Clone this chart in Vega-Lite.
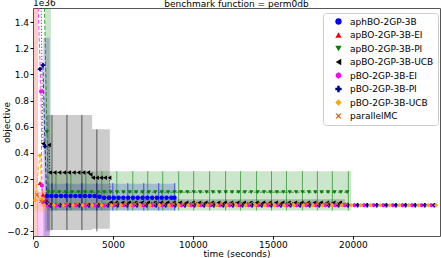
{
"$schema": "https://vega.github.io/schema/vega-lite/v6.json",
"width": 407, "height": 228,
"autosize": {"type": "none"},
"padding": {"left": 33, "top": 8, "right": 1, "bottom": 22},
"title": {"text": "benchmark function = perm0db", "anchor": "middle", "frame": "group", "baseline": "bottom", "offset": -19},
"datasets": {
"pts": [
{"s":"aphBO-2GP-3B","x":874,"y":0.07},{"s":"aphBO-2GP-3B","x":1150,"y":0.07},{"s":"aphBO-2GP-3B","x":1450,"y":0.07},{"s":"aphBO-2GP-3B","x":1750,"y":0.07},{"s":"aphBO-2GP-3B","x":2050,"y":0.07},{"s":"aphBO-2GP-3B","x":2350,"y":0.07},{"s":"aphBO-2GP-3B","x":2650,"y":0.07},{"s":"aphBO-2GP-3B","x":2950,"y":0.07},{"s":"aphBO-2GP-3B","x":3250,"y":0.07},{"s":"aphBO-2GP-3B","x":3550,"y":0.07},{"s":"aphBO-2GP-3B","x":3850,"y":0.07},{"s":"aphBO-2GP-3B","x":4150,"y":0.065},{"s":"aphBO-2GP-3B","x":4450,"y":0.058},{"s":"aphBO-2GP-3B","x":4750,"y":0.058},{"s":"aphBO-2GP-3B","x":5050,"y":0.058},{"s":"aphBO-2GP-3B","x":5350,"y":0.058},{"s":"aphBO-2GP-3B","x":5650,"y":0.058},{"s":"aphBO-2GP-3B","x":5950,"y":0.058},{"s":"aphBO-2GP-3B","x":6250,"y":0.058},{"s":"aphBO-2GP-3B","x":6550,"y":0.058},{"s":"aphBO-2GP-3B","x":6850,"y":0.058},{"s":"aphBO-2GP-3B","x":7150,"y":0.058},{"s":"aphBO-2GP-3B","x":7450,"y":0.058},{"s":"aphBO-2GP-3B","x":7750,"y":0.058},{"s":"aphBO-2GP-3B","x":8050,"y":0.058},{"s":"aphBO-2GP-3B","x":8350,"y":0.058},{"s":"aphBO-2GP-3B","x":8650,"y":0.058},{"s":"aphBO-2GP-3B","x":8850,"y":0.058},
{"s":"apBO-2GP-3B-EI","x":437,"y":0.17},{"s":"apBO-2GP-3B-EI","x":624,"y":0.08},{"s":"apBO-2GP-3B-EI","x":800,"y":0.04},{"s":"apBO-2GP-3B-EI","x":950,"y":0.01},{"s":"apBO-2GP-3B-EI","x":1400,"y":0.005},{"s":"apBO-2GP-3B-EI","x":2000,"y":0.005},{"s":"apBO-2GP-3B-EI","x":2600,"y":0.005},{"s":"apBO-2GP-3B-EI","x":3200,"y":0.005},{"s":"apBO-2GP-3B-EI","x":3800,"y":0.005},{"s":"apBO-2GP-3B-EI","x":4400,"y":0.005},{"s":"apBO-2GP-3B-EI","x":5000,"y":0.005},{"s":"apBO-2GP-3B-EI","x":5600,"y":0.005},{"s":"apBO-2GP-3B-EI","x":6200,"y":0.005},{"s":"apBO-2GP-3B-EI","x":6800,"y":0.005},{"s":"apBO-2GP-3B-EI","x":7400,"y":0.005},{"s":"apBO-2GP-3B-EI","x":8000,"y":0.005},{"s":"apBO-2GP-3B-EI","x":8600,"y":0.005},{"s":"apBO-2GP-3B-EI","x":9200,"y":0.005},{"s":"apBO-2GP-3B-EI","x":9800,"y":0.005},{"s":"apBO-2GP-3B-EI","x":10400,"y":0.005},{"s":"apBO-2GP-3B-EI","x":11000,"y":0.005},{"s":"apBO-2GP-3B-EI","x":11600,"y":0.005},{"s":"apBO-2GP-3B-EI","x":12200,"y":0.005},{"s":"apBO-2GP-3B-EI","x":12800,"y":0.005},{"s":"apBO-2GP-3B-EI","x":13400,"y":0.005},{"s":"apBO-2GP-3B-EI","x":14000,"y":0.005},{"s":"apBO-2GP-3B-EI","x":14600,"y":0.005},{"s":"apBO-2GP-3B-EI","x":15200,"y":0.005},{"s":"apBO-2GP-3B-EI","x":15800,"y":0.005},{"s":"apBO-2GP-3B-EI","x":16400,"y":0.005},{"s":"apBO-2GP-3B-EI","x":17000,"y":0.005},{"s":"apBO-2GP-3B-EI","x":17600,"y":0.005},{"s":"apBO-2GP-3B-EI","x":18200,"y":0.005},{"s":"apBO-2GP-3B-EI","x":18800,"y":0.005},{"s":"apBO-2GP-3B-EI","x":19400,"y":0.005},
{"s":"apBO-2GP-3B-PI","x":700,"y":1.6},{"s":"apBO-2GP-3B-PI","x":874,"y":0.56},{"s":"apBO-2GP-3B-PI","x":950,"y":0.1},{"s":"apBO-2GP-3B-PI","x":1250,"y":0.1},{"s":"apBO-2GP-3B-PI","x":1650,"y":0.1},{"s":"apBO-2GP-3B-PI","x":2050,"y":0.1},{"s":"apBO-2GP-3B-PI","x":2450,"y":0.1},{"s":"apBO-2GP-3B-PI","x":2850,"y":0.1},{"s":"apBO-2GP-3B-PI","x":3250,"y":0.1},{"s":"apBO-2GP-3B-PI","x":3650,"y":0.1},{"s":"apBO-2GP-3B-PI","x":4050,"y":0.1},{"s":"apBO-2GP-3B-PI","x":4450,"y":0.1},{"s":"apBO-2GP-3B-PI","x":4850,"y":0.1},{"s":"apBO-2GP-3B-PI","x":5250,"y":0.1},{"s":"apBO-2GP-3B-PI","x":5650,"y":0.1},{"s":"apBO-2GP-3B-PI","x":6050,"y":0.1},{"s":"apBO-2GP-3B-PI","x":6450,"y":0.1},{"s":"apBO-2GP-3B-PI","x":6850,"y":0.1},{"s":"apBO-2GP-3B-PI","x":7250,"y":0.1},{"s":"apBO-2GP-3B-PI","x":7650,"y":0.1},{"s":"apBO-2GP-3B-PI","x":8050,"y":0.1},{"s":"apBO-2GP-3B-PI","x":8450,"y":0.1},{"s":"apBO-2GP-3B-PI","x":8850,"y":0.1},{"s":"apBO-2GP-3B-PI","x":9250,"y":0.1},{"s":"apBO-2GP-3B-PI","x":9650,"y":0.1},{"s":"apBO-2GP-3B-PI","x":10050,"y":0.1},{"s":"apBO-2GP-3B-PI","x":10450,"y":0.1},{"s":"apBO-2GP-3B-PI","x":10850,"y":0.1},{"s":"apBO-2GP-3B-PI","x":11250,"y":0.1},{"s":"apBO-2GP-3B-PI","x":11650,"y":0.1},{"s":"apBO-2GP-3B-PI","x":12050,"y":0.1},{"s":"apBO-2GP-3B-PI","x":12450,"y":0.1},{"s":"apBO-2GP-3B-PI","x":12850,"y":0.1},{"s":"apBO-2GP-3B-PI","x":13250,"y":0.1},{"s":"apBO-2GP-3B-PI","x":13650,"y":0.1},{"s":"apBO-2GP-3B-PI","x":14050,"y":0.1},{"s":"apBO-2GP-3B-PI","x":14450,"y":0.1},{"s":"apBO-2GP-3B-PI","x":14850,"y":0.1},{"s":"apBO-2GP-3B-PI","x":15250,"y":0.1},{"s":"apBO-2GP-3B-PI","x":15650,"y":0.1},{"s":"apBO-2GP-3B-PI","x":16050,"y":0.1},{"s":"apBO-2GP-3B-PI","x":16450,"y":0.1},{"s":"apBO-2GP-3B-PI","x":16850,"y":0.1},{"s":"apBO-2GP-3B-PI","x":17250,"y":0.1},{"s":"apBO-2GP-3B-PI","x":17650,"y":0.1},{"s":"apBO-2GP-3B-PI","x":18050,"y":0.1},{"s":"apBO-2GP-3B-PI","x":18450,"y":0.1},{"s":"apBO-2GP-3B-PI","x":18850,"y":0.1},{"s":"apBO-2GP-3B-PI","x":19250,"y":0.1},{"s":"apBO-2GP-3B-PI","x":19650,"y":0.1},
{"s":"apBO-2GP-3B-UCB","x":500,"y":1.6},{"s":"apBO-2GP-3B-UCB","x":624,"y":0.47},{"s":"apBO-2GP-3B-UCB","x":1000,"y":0.46},{"s":"apBO-2GP-3B-UCB","x":1060,"y":0.25},{"s":"apBO-2GP-3B-UCB","x":1350,"y":0.25},{"s":"apBO-2GP-3B-UCB","x":1650,"y":0.25},{"s":"apBO-2GP-3B-UCB","x":1950,"y":0.25},{"s":"apBO-2GP-3B-UCB","x":2250,"y":0.25},{"s":"apBO-2GP-3B-UCB","x":2550,"y":0.25},{"s":"apBO-2GP-3B-UCB","x":2850,"y":0.25},{"s":"apBO-2GP-3B-UCB","x":3150,"y":0.25},{"s":"apBO-2GP-3B-UCB","x":3450,"y":0.25},{"s":"apBO-2GP-3B-UCB","x":3600,"y":0.235},{"s":"apBO-2GP-3B-UCB","x":3750,"y":0.21},{"s":"apBO-2GP-3B-UCB","x":4000,"y":0.21},{"s":"apBO-2GP-3B-UCB","x":4250,"y":0.21},{"s":"apBO-2GP-3B-UCB","x":4500,"y":0.21},{"s":"apBO-2GP-3B-UCB","x":4780,"y":0.21},{"s":"apBO-2GP-3B-UCB","x":4850,"y":0.02},{"s":"apBO-2GP-3B-UCB","x":5200,"y":0.02},{"s":"apBO-2GP-3B-UCB","x":5600,"y":0.02},{"s":"apBO-2GP-3B-UCB","x":6000,"y":0.02},{"s":"apBO-2GP-3B-UCB","x":6400,"y":0.02},{"s":"apBO-2GP-3B-UCB","x":6800,"y":0.02},{"s":"apBO-2GP-3B-UCB","x":7200,"y":0.02},{"s":"apBO-2GP-3B-UCB","x":7600,"y":0.02},{"s":"apBO-2GP-3B-UCB","x":8000,"y":0.02},{"s":"apBO-2GP-3B-UCB","x":8400,"y":0.02},{"s":"apBO-2GP-3B-UCB","x":8800,"y":0.02},{"s":"apBO-2GP-3B-UCB","x":9200,"y":0.02},{"s":"apBO-2GP-3B-UCB","x":9600,"y":0.02},{"s":"apBO-2GP-3B-UCB","x":10000,"y":0.02},{"s":"apBO-2GP-3B-UCB","x":10400,"y":0.02},{"s":"apBO-2GP-3B-UCB","x":10800,"y":0.02},{"s":"apBO-2GP-3B-UCB","x":11200,"y":0.02},{"s":"apBO-2GP-3B-UCB","x":11600,"y":0.02},{"s":"apBO-2GP-3B-UCB","x":12000,"y":0.02},{"s":"apBO-2GP-3B-UCB","x":12400,"y":0.02},{"s":"apBO-2GP-3B-UCB","x":12800,"y":0.02},{"s":"apBO-2GP-3B-UCB","x":13200,"y":0.02},{"s":"apBO-2GP-3B-UCB","x":13600,"y":0.02},{"s":"apBO-2GP-3B-UCB","x":14000,"y":0.02},{"s":"apBO-2GP-3B-UCB","x":14400,"y":0.02},{"s":"apBO-2GP-3B-UCB","x":14800,"y":0.02},{"s":"apBO-2GP-3B-UCB","x":15200,"y":0.02},{"s":"apBO-2GP-3B-UCB","x":15600,"y":0.02},{"s":"apBO-2GP-3B-UCB","x":16000,"y":0.02},{"s":"apBO-2GP-3B-UCB","x":16400,"y":0.02},{"s":"apBO-2GP-3B-UCB","x":16800,"y":0.02},{"s":"apBO-2GP-3B-UCB","x":17200,"y":0.02},{"s":"apBO-2GP-3B-UCB","x":17600,"y":0.02},{"s":"apBO-2GP-3B-UCB","x":18000,"y":0.02},{"s":"apBO-2GP-3B-UCB","x":18400,"y":0.02},{"s":"apBO-2GP-3B-UCB","x":18800,"y":0.02},{"s":"apBO-2GP-3B-UCB","x":19200,"y":0.02},
{"s":"pBO-2GP-3B-EI","x":300,"y":1.6},{"s":"pBO-2GP-3B-EI","x":500,"y":0.87},{"s":"pBO-2GP-3B-EI","x":560,"y":0.15},{"s":"pBO-2GP-3B-EI","x":650,"y":0.02},{"s":"pBO-2GP-3B-EI","x":900,"y":0},{"s":"pBO-2GP-3B-EI","x":1500,"y":0},{"s":"pBO-2GP-3B-EI","x":2100,"y":0},{"s":"pBO-2GP-3B-EI","x":2700,"y":0},{"s":"pBO-2GP-3B-EI","x":3300,"y":0},{"s":"pBO-2GP-3B-EI","x":3900,"y":0},{"s":"pBO-2GP-3B-EI","x":4500,"y":0},{"s":"pBO-2GP-3B-EI","x":5100,"y":0},{"s":"pBO-2GP-3B-EI","x":5700,"y":0},{"s":"pBO-2GP-3B-EI","x":6300,"y":0},{"s":"pBO-2GP-3B-EI","x":6900,"y":0},{"s":"pBO-2GP-3B-EI","x":7500,"y":0},{"s":"pBO-2GP-3B-EI","x":8100,"y":0},{"s":"pBO-2GP-3B-EI","x":8700,"y":0},{"s":"pBO-2GP-3B-EI","x":9300,"y":0},{"s":"pBO-2GP-3B-EI","x":9900,"y":0},{"s":"pBO-2GP-3B-EI","x":10500,"y":0},{"s":"pBO-2GP-3B-EI","x":11100,"y":0},{"s":"pBO-2GP-3B-EI","x":11700,"y":0},{"s":"pBO-2GP-3B-EI","x":12300,"y":0},{"s":"pBO-2GP-3B-EI","x":12900,"y":0},{"s":"pBO-2GP-3B-EI","x":13500,"y":0},{"s":"pBO-2GP-3B-EI","x":14100,"y":0},{"s":"pBO-2GP-3B-EI","x":14700,"y":0},{"s":"pBO-2GP-3B-EI","x":15300,"y":0},{"s":"pBO-2GP-3B-EI","x":15900,"y":0},{"s":"pBO-2GP-3B-EI","x":16500,"y":0},{"s":"pBO-2GP-3B-EI","x":17100,"y":0},{"s":"pBO-2GP-3B-EI","x":17700,"y":0},{"s":"pBO-2GP-3B-EI","x":18300,"y":0},{"s":"pBO-2GP-3B-EI","x":18900,"y":0},{"s":"pBO-2GP-3B-EI","x":19500,"y":0},{"s":"pBO-2GP-3B-EI","x":20100,"y":0},{"s":"pBO-2GP-3B-EI","x":20700,"y":0},{"s":"pBO-2GP-3B-EI","x":21300,"y":0},{"s":"pBO-2GP-3B-EI","x":21900,"y":0},{"s":"pBO-2GP-3B-EI","x":22500,"y":0},{"s":"pBO-2GP-3B-EI","x":23100,"y":0},{"s":"pBO-2GP-3B-EI","x":23700,"y":0},{"s":"pBO-2GP-3B-EI","x":24300,"y":0},{"s":"pBO-2GP-3B-EI","x":24900,"y":0},
{"s":"pBO-2GP-3B-PI","x":437,"y":1.04},{"s":"pBO-2GP-3B-PI","x":624,"y":1.07},{"s":"pBO-2GP-3B-PI","x":750,"y":0.45},{"s":"pBO-2GP-3B-PI","x":874,"y":0.02},{"s":"pBO-2GP-3B-PI","x":1100,"y":0},{"s":"pBO-2GP-3B-PI","x":1700,"y":0},{"s":"pBO-2GP-3B-PI","x":2300,"y":0},{"s":"pBO-2GP-3B-PI","x":2900,"y":0},{"s":"pBO-2GP-3B-PI","x":3500,"y":0},{"s":"pBO-2GP-3B-PI","x":4100,"y":0},{"s":"pBO-2GP-3B-PI","x":4700,"y":0},{"s":"pBO-2GP-3B-PI","x":5300,"y":0},{"s":"pBO-2GP-3B-PI","x":5900,"y":0},{"s":"pBO-2GP-3B-PI","x":6500,"y":0},{"s":"pBO-2GP-3B-PI","x":7100,"y":0},{"s":"pBO-2GP-3B-PI","x":7700,"y":0},{"s":"pBO-2GP-3B-PI","x":8300,"y":0},{"s":"pBO-2GP-3B-PI","x":8900,"y":0},{"s":"pBO-2GP-3B-PI","x":9500,"y":0},{"s":"pBO-2GP-3B-PI","x":10100,"y":0},{"s":"pBO-2GP-3B-PI","x":10700,"y":0},{"s":"pBO-2GP-3B-PI","x":11300,"y":0},{"s":"pBO-2GP-3B-PI","x":11900,"y":0},{"s":"pBO-2GP-3B-PI","x":12500,"y":0},{"s":"pBO-2GP-3B-PI","x":13100,"y":0},{"s":"pBO-2GP-3B-PI","x":13700,"y":0},{"s":"pBO-2GP-3B-PI","x":14300,"y":0},{"s":"pBO-2GP-3B-PI","x":14900,"y":0},{"s":"pBO-2GP-3B-PI","x":15500,"y":0},{"s":"pBO-2GP-3B-PI","x":16100,"y":0},{"s":"pBO-2GP-3B-PI","x":16700,"y":0},{"s":"pBO-2GP-3B-PI","x":17300,"y":0},{"s":"pBO-2GP-3B-PI","x":17900,"y":0},{"s":"pBO-2GP-3B-PI","x":18500,"y":0},{"s":"pBO-2GP-3B-PI","x":19100,"y":0},{"s":"pBO-2GP-3B-PI","x":19700,"y":0},{"s":"pBO-2GP-3B-PI","x":20300,"y":0},{"s":"pBO-2GP-3B-PI","x":20900,"y":0},{"s":"pBO-2GP-3B-PI","x":21500,"y":0},{"s":"pBO-2GP-3B-PI","x":22100,"y":0},{"s":"pBO-2GP-3B-PI","x":22700,"y":0},{"s":"pBO-2GP-3B-PI","x":23300,"y":0},{"s":"pBO-2GP-3B-PI","x":23900,"y":0},{"s":"pBO-2GP-3B-PI","x":24500,"y":0},{"s":"pBO-2GP-3B-PI","x":25100,"y":0},
{"s":"pBO-2GP-3B-UCB","x":125,"y":0.04},{"s":"pBO-2GP-3B-UCB","x":437,"y":0.38},{"s":"pBO-2GP-3B-UCB","x":560,"y":0.05},{"s":"pBO-2GP-3B-UCB","x":700,"y":0},{"s":"pBO-2GP-3B-UCB","x":1300,"y":0},{"s":"pBO-2GP-3B-UCB","x":1900,"y":0},{"s":"pBO-2GP-3B-UCB","x":2500,"y":0},{"s":"pBO-2GP-3B-UCB","x":3100,"y":0},{"s":"pBO-2GP-3B-UCB","x":3700,"y":0},{"s":"pBO-2GP-3B-UCB","x":4300,"y":0},{"s":"pBO-2GP-3B-UCB","x":4900,"y":0},{"s":"pBO-2GP-3B-UCB","x":5500,"y":0},{"s":"pBO-2GP-3B-UCB","x":6100,"y":0},{"s":"pBO-2GP-3B-UCB","x":6700,"y":0},{"s":"pBO-2GP-3B-UCB","x":7300,"y":0},{"s":"pBO-2GP-3B-UCB","x":7900,"y":0},{"s":"pBO-2GP-3B-UCB","x":8500,"y":0},{"s":"pBO-2GP-3B-UCB","x":9100,"y":0},{"s":"pBO-2GP-3B-UCB","x":9700,"y":0},{"s":"pBO-2GP-3B-UCB","x":10300,"y":0},{"s":"pBO-2GP-3B-UCB","x":10900,"y":0},{"s":"pBO-2GP-3B-UCB","x":11500,"y":0},{"s":"pBO-2GP-3B-UCB","x":12100,"y":0},{"s":"pBO-2GP-3B-UCB","x":12700,"y":0},{"s":"pBO-2GP-3B-UCB","x":13300,"y":0},{"s":"pBO-2GP-3B-UCB","x":13900,"y":0},{"s":"pBO-2GP-3B-UCB","x":14500,"y":0},{"s":"pBO-2GP-3B-UCB","x":15100,"y":0},{"s":"pBO-2GP-3B-UCB","x":15700,"y":0},{"s":"pBO-2GP-3B-UCB","x":16300,"y":0},{"s":"pBO-2GP-3B-UCB","x":16900,"y":0},{"s":"pBO-2GP-3B-UCB","x":17500,"y":0},{"s":"pBO-2GP-3B-UCB","x":18100,"y":0},{"s":"pBO-2GP-3B-UCB","x":18700,"y":0},{"s":"pBO-2GP-3B-UCB","x":19300,"y":0},{"s":"pBO-2GP-3B-UCB","x":19900,"y":0},{"s":"pBO-2GP-3B-UCB","x":20500,"y":0},{"s":"pBO-2GP-3B-UCB","x":21100,"y":0},{"s":"pBO-2GP-3B-UCB","x":21700,"y":0},{"s":"pBO-2GP-3B-UCB","x":22300,"y":0},{"s":"pBO-2GP-3B-UCB","x":22900,"y":0},{"s":"pBO-2GP-3B-UCB","x":23500,"y":0},{"s":"pBO-2GP-3B-UCB","x":24100,"y":0},{"s":"pBO-2GP-3B-UCB","x":24700,"y":0},{"s":"pBO-2GP-3B-UCB","x":25200,"y":0},
{"s":"parallelMC","x":250,"y":0.08},{"s":"parallelMC","x":500,"y":0.03},{"s":"parallelMC","x":1000,"y":0.01},{"s":"parallelMC","x":1600,"y":0.01},{"s":"parallelMC","x":2200,"y":0.01},{"s":"parallelMC","x":2800,"y":0.01},{"s":"parallelMC","x":3400,"y":0.01},{"s":"parallelMC","x":4000,"y":0.01},{"s":"parallelMC","x":4600,"y":0.01},{"s":"parallelMC","x":5200,"y":0.01},{"s":"parallelMC","x":5800,"y":0.01},{"s":"parallelMC","x":6400,"y":0.01},{"s":"parallelMC","x":7000,"y":0.01},{"s":"parallelMC","x":7600,"y":0.01},{"s":"parallelMC","x":8200,"y":0.01},{"s":"parallelMC","x":8800,"y":0.01},{"s":"parallelMC","x":9400,"y":0.01},{"s":"parallelMC","x":10000,"y":0.01},{"s":"parallelMC","x":10600,"y":0.01},{"s":"parallelMC","x":11200,"y":0.01},{"s":"parallelMC","x":11800,"y":0.01},{"s":"parallelMC","x":12400,"y":0.01},{"s":"parallelMC","x":13000,"y":0.01},{"s":"parallelMC","x":13600,"y":0.01},{"s":"parallelMC","x":14200,"y":0.01},{"s":"parallelMC","x":14800,"y":0.01},{"s":"parallelMC","x":15400,"y":0.01},{"s":"parallelMC","x":16000,"y":0.01},{"s":"parallelMC","x":16600,"y":0.01},{"s":"parallelMC","x":17200,"y":0.01},{"s":"parallelMC","x":17800,"y":0.01},{"s":"parallelMC","x":18400,"y":0.01},{"s":"parallelMC","x":19000,"y":0.01},{"s":"parallelMC","x":19600,"y":0.01}
],
"bands": [
{"s":"aphBO-2GP-3B","b":"A1","x":874,"lo":-0.04,"hi":0.165},{"s":"aphBO-2GP-3B","b":"A1","x":8900,"lo":-0.04,"hi":0.165},
{"s":"apBO-2GP-3B-EI","b":"E1","x":60,"lo":-0.3,"hi":1.6},{"s":"apBO-2GP-3B-EI","b":"E1","x":320,"lo":-0.3,"hi":1.6},
{"s":"apBO-2GP-3B-PI","b":"P1","x":750,"lo":-0.2,"hi":1.6},{"s":"apBO-2GP-3B-PI","b":"P1","x":1120,"lo":-0.2,"hi":1.6},
{"s":"apBO-2GP-3B-PI","b":"P2","x":1120,"lo":-0.04,"hi":0.26},{"s":"apBO-2GP-3B-PI","b":"P2","x":19900,"lo":-0.04,"hi":0.26},
{"s":"apBO-2GP-3B-UCB","b":"U1","x":874,"lo":-0.19,"hi":0.69},{"s":"apBO-2GP-3B-UCB","b":"U1","x":3700,"lo":-0.19,"hi":0.69},{"s":"apBO-2GP-3B-UCB","b":"U1","x":3701,"lo":-0.18,"hi":0.58},{"s":"apBO-2GP-3B-UCB","b":"U1","x":4805,"lo":-0.18,"hi":0.58},
{"s":"apBO-2GP-3B-UCB","b":"U2","x":4805,"lo":-0.005,"hi":0.045},{"s":"apBO-2GP-3B-UCB","b":"U2","x":19500,"lo":-0.005,"hi":0.045},
{"s":"pBO-2GP-3B-EI","b":"pE1","x":250,"lo":-0.3,"hi":0.1},{"s":"pBO-2GP-3B-EI","b":"pE1","x":1050,"lo":-0.3,"hi":0.1},
{"s":"pBO-2GP-3B-PI","b":"pP1","x":650,"lo":-0.3,"hi":1.28},{"s":"pBO-2GP-3B-PI","b":"pP1","x":1050,"lo":-0.3,"hi":1.28},
{"s":"pBO-2GP-3B-UCB","b":"pU1","x":100,"lo":-0.05,"hi":0.12},{"s":"pBO-2GP-3B-UCB","b":"pU1","x":900,"lo":-0.05,"hi":0.12}
],
"bars": [
{"s":"aphBO-2GP-3B","x":1186,"lo":-0.04,"hi":0.17},{"s":"aphBO-2GP-3B","x":2122,"lo":-0.04,"hi":0.17},{"s":"aphBO-2GP-3B","x":3058,"lo":-0.04,"hi":0.17},{"s":"aphBO-2GP-3B","x":3994,"lo":-0.04,"hi":0.17},{"s":"aphBO-2GP-3B","x":4992,"lo":-0.04,"hi":0.17},{"s":"aphBO-2GP-3B","x":5928,"lo":-0.04,"hi":0.17},{"s":"aphBO-2GP-3B","x":6926,"lo":-0.04,"hi":0.17},{"s":"aphBO-2GP-3B","x":7862,"lo":-0.04,"hi":0.17},{"s":"aphBO-2GP-3B","x":8860,"lo":-0.04,"hi":0.17},
{"s":"apBO-2GP-3B-PI","x":1435,"lo":-0.04,"hi":0.26},{"s":"apBO-2GP-3B-PI","x":2371,"lo":-0.04,"hi":0.26},{"s":"apBO-2GP-3B-PI","x":3307,"lo":-0.04,"hi":0.26},{"s":"apBO-2GP-3B-PI","x":4306,"lo":-0.04,"hi":0.26},{"s":"apBO-2GP-3B-PI","x":5242,"lo":-0.04,"hi":0.26},{"s":"apBO-2GP-3B-PI","x":6240,"lo":-0.04,"hi":0.26},{"s":"apBO-2GP-3B-PI","x":7176,"lo":-0.04,"hi":0.26},{"s":"apBO-2GP-3B-PI","x":8112,"lo":-0.04,"hi":0.26},{"s":"apBO-2GP-3B-PI","x":9110,"lo":-0.04,"hi":0.26},{"s":"apBO-2GP-3B-PI","x":10046,"lo":-0.04,"hi":0.26},{"s":"apBO-2GP-3B-PI","x":11045,"lo":-0.04,"hi":0.26},{"s":"apBO-2GP-3B-PI","x":12043,"lo":-0.04,"hi":0.26},{"s":"apBO-2GP-3B-PI","x":12979,"lo":-0.04,"hi":0.26},{"s":"apBO-2GP-3B-PI","x":13978,"lo":-0.04,"hi":0.26},{"s":"apBO-2GP-3B-PI","x":14914,"lo":-0.04,"hi":0.26},{"s":"apBO-2GP-3B-PI","x":15850,"lo":-0.04,"hi":0.26},{"s":"apBO-2GP-3B-PI","x":16848,"lo":-0.04,"hi":0.26},{"s":"apBO-2GP-3B-PI","x":17784,"lo":-0.04,"hi":0.26},{"s":"apBO-2GP-3B-PI","x":18720,"lo":-0.04,"hi":0.26},{"s":"apBO-2GP-3B-PI","x":19718,"lo":-0.04,"hi":0.26},
{"s":"apBO-2GP-3B-UCB","x":1186,"lo":-0.19,"hi":0.69},{"s":"apBO-2GP-3B-UCB","x":2122,"lo":-0.19,"hi":0.69},{"s":"apBO-2GP-3B-UCB","x":3058,"lo":-0.19,"hi":0.69},{"s":"apBO-2GP-3B-UCB","x":3994,"lo":-0.2,"hi":0.58}
]
},
"layer": [
{"data": {"name": "bands"}, "mark": {"type": "area", "opacity": 0.2, "clip": true},
 "encoding": {
  "x": {"field": "x", "type": "quantitative", "scale": {"domain": [0, 25450], "nice": false, "zero": false}, "axis": {"values": [0,5000,10000,15000,20000], "format": "d", "title": "time (seconds)"}},
  "y": {"field": "lo", "type": "quantitative", "scale": {"domain": [-0.235, 1.507], "nice": false, "zero": false}, "axis": {"tickCount": 9, "format": ".1f", "title": "objective", "labelOverlap": false, "labelBound": false, "titleX": -27, "titleY": 114, "titleBaseline": "middle", "titleAngle": -90, "titleAlign": "center"}},
  "y2": {"field": "hi"},
  "color": {"field": "s", "type": "nominal",
    "scale": {"domain": ["aphBO-2GP-3B","apBO-2GP-3B-EI","apBO-2GP-3B-PI","apBO-2GP-3B-UCB","pBO-2GP-3B-EI","pBO-2GP-3B-PI","pBO-2GP-3B-UCB","parallelMC"],
      "range": ["#0000ff","#ff0000","#008000","#000000","#ff00ff","#000080","#ffa500","#d2691e"]},
    "legend": {"title": null, "orient": "none", "legendX": 290, "legendY": 5,
      "fillColor": "rgba(255,255,255,0.85)", "strokeColor": "#cccccc", "cornerRadius": 3, "padding": 4,
      "labelFont": "DejaVu Sans", "labelFontSize": 9, "labelColor": "#000", "rowPadding": 3.5, "symbolSize": 40,
      "symbolOffset": 7, "labelOffset": 7, "symbolOpacity": 1, "symbolStrokeWidth": 0,
      "encode": {"symbols": {"update": {
        "size": {"value": 40},
        "opacity": {"value": 1},
        "fillOpacity": {"value": 1},
        "strokeWidth": {"value": 0},
        "fill": {"signal": "scale('color', datum.value)"}
      }}}}
  },
  "detail": {"field": "b"}
 }},
{"data": {"name": "bars"}, "mark": {"type": "rule", "opacity": 0.6, "strokeWidth": 1, "clip": true},
 "encoding": {
  "x": {"field": "x", "type": "quantitative"},
  "y": {"field": "lo", "type": "quantitative", "title": "objective"},
  "y2": {"field": "hi"},
  "color": {"field": "s", "type": "nominal"}
 }},
{"data": {"name": "pts"}, "mark": {"type": "line", "strokeWidth": 1, "opacity": 0.75, "clip": true},
 "encoding": {
  "x": {"field": "x", "type": "quantitative"},
  "y": {"field": "y", "type": "quantitative", "title": "objective"},
  "color": {"field": "s", "type": "nominal"},
  "strokeDash": {"field": "s", "type": "nominal", "legend": null,
    "scale": {"domain": ["aphBO-2GP-3B","apBO-2GP-3B-EI","apBO-2GP-3B-PI","apBO-2GP-3B-UCB","pBO-2GP-3B-EI","pBO-2GP-3B-PI","pBO-2GP-3B-UCB","parallelMC"],
      "range": [[1,0],[1,2],[4,2],[1,2],[4,2],[4,2],[4,2],[4,2]]}}
 }},
{"data": {"name": "pts"}, "mark": {"type": "point", "filled": true, "opacity": 1, "size": 20, "clip": true},
 "encoding": {
  "x": {"field": "x", "type": "quantitative"},
  "y": {"field": "y", "type": "quantitative", "title": "objective"},
  "color": {"field": "s", "type": "nominal"},
  "shape": {"field": "s", "type": "nominal",
    "scale": {"domain": ["aphBO-2GP-3B","apBO-2GP-3B-EI","apBO-2GP-3B-PI","apBO-2GP-3B-UCB","pBO-2GP-3B-EI","pBO-2GP-3B-PI","pBO-2GP-3B-UCB","parallelMC"],
      "range": ["circle","triangle-up","triangle-down","triangle-left","M0,-1L0.87,-0.5L0.87,0.5L0,1L-0.87,0.5L-0.87,-0.5Z","cross","diamond","M-0.9,-0.6L-0.6,-0.9L0,-0.3L0.6,-0.9L0.9,-0.6L0.3,0L0.9,0.6L0.6,0.9L0,0.3L-0.6,0.9L-0.9,0.6L-0.3,0Z"]}}
 }},
{"data": {"values": [{"t": "1e36", "x": 0, "y": 1.507}]},
 "mark": {"type": "text", "align": "left", "baseline": "bottom", "dy": -0.5, "font": "DejaVu Sans", "fontSize": 9, "color": "#000"},
 "encoding": {
  "x": {"field": "x", "type": "quantitative"},
  "y": {"field": "y", "type": "quantitative", "title": "objective"},
  "text": {"field": "t"}
 }}
],
"config": {
 "view": {"stroke": "#555555", "strokeWidth": 1},
 "axis": {"domain": false, "grid": false, "labelFont": "DejaVu Sans", "labelFontSize": 9, "labelColor": "#000",
   "titleFont": "DejaVu Sans", "titleFontSize": 9, "titleFontWeight": "normal", "titleColor": "#000",
   "tickColor": "#000", "tickSize": 3, "labelPadding": 1.5, "labelOverlap": false},
 "axisX": {"titlePadding": 0},
 "title": {"font": "DejaVu Sans", "fontSize": 9, "fontWeight": "normal", "color": "#000"}
}
}
